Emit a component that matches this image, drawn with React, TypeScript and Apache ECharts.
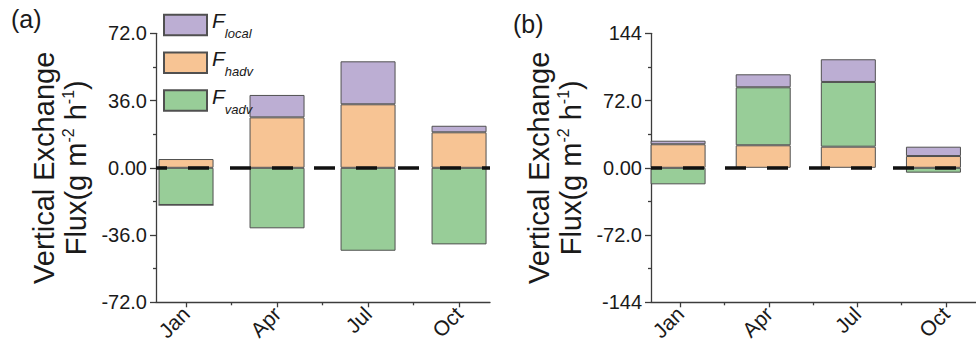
import React, { useEffect, useRef } from 'react';
import * as echarts from 'echarts';

const months = ['Jan', 'Apr', 'Jul', 'Oct'];
const monthPos = [1, 2, 3, 4];
const minorPos = [1.5, 2.5, 3.5];
const xMin = 0.67;
const xMax = 4.34;

// Panel (a)
const hadvA = [4.7, 27.0, 34.0, 19.0];
const vadvA = [-19.9, -32.4, -44.4, -41.0];
const localA = [0, 12.0, 23.0, 3.5];

// Panel (b)
const hadvB = [25.2, 24.1, 22.6, 12.6];
const vadvB = [-17.7, 62.1, 69.3, -5.2];
const localB = [3.8, 13.9, 24.3, 10.0];

const yTicksA = [-72, -36, 0, 36, 72];
const yLabelsA = ['-72.0', '-36.0', '0.00', '36.0', '72.0'];
const yTicksB = [-144, -72, 0, 72, 144];
const yLabelsB = ['-144', '-72.0', '0.00', '72.0', '144'];

const FONT = 'Liberation Sans, Arial, Helvetica, sans-serif';
const C_LOCAL = '#BCAED3';
const C_HADV = '#F7C494';
const C_VADV = '#98CD98';
const AXIS_COLOR = '#3c3c3c';
const TEXT_COLOR = '#1a1a1a';

export default function App() {
  const ref = useRef<HTMLDivElement>(null);

  useEffect(() => {
    if (!ref.current) return;
    const chart = echarts.init(ref.current, undefined, { renderer: 'svg' });

    const TOP = 33.3;
    const H = 269;
    const W = 334;
    const axisLefts = [156, 651];
    const step = W / (xMax - xMin);

    const grids: any[] = [];
    const xAxes: any[] = [];
    const yAxes: any[] = [];
    const series: any[] = [];

    [0, 1].forEach((gi) => {
      const ticks = gi === 0 ? yTicksA : yTicksB;
      const labels = gi === 0 ? yLabelsA : yLabelsB;
      const left = axisLefts[gi];
      // axis grid (index gi*2), bar grid (index gi*2+1)
      grids.push({ left, top: TOP, width: W, height: H });
      const barLeft = left + (monthPos[0] - xMin) * step - step / 2;
      grids.push({ left: barLeft, top: TOP, width: step * months.length, height: H });

      const axGrid = gi * 2;
      const barGrid = gi * 2 + 1;

      const majorX = xAxes.length;
      xAxes.push({
        type: 'value',
        gridIndex: axGrid,
        min: xMin,
        max: xMax,
        position: 'bottom',
        axisLine: { show: true, onZero: false, lineStyle: { color: AXIS_COLOR, width: 1.3 } },
        axisTick: { show: true, customValues: monthPos, length: 5, lineStyle: { color: AXIS_COLOR, width: 1.3 } },
        axisLabel: {
          show: true,
          customValues: monthPos,
          rotate: 45,
          margin: 8,
          fontSize: 21,
          fontFamily: FONT,
          color: TEXT_COLOR,
          formatter: (v: number) => months[monthPos.indexOf(v)] ?? '',
        },
        splitLine: { show: false },
      });
      xAxes.push({
        type: 'value',
        gridIndex: axGrid,
        min: xMin,
        max: xMax,
        position: 'bottom',
        axisLine: { show: false, onZero: false },
        axisTick: { show: true, customValues: minorPos, length: 3, lineStyle: { color: AXIS_COLOR, width: 1.3 } },
        axisLabel: { show: false },
        splitLine: { show: false },
      });
      const catX = xAxes.length;
      xAxes.push({
        type: 'category',
        gridIndex: barGrid,
        data: months,
        show: false,
        axisLine: { onZero: false },
      });

      const visY = yAxes.length;
      yAxes.push({
        type: 'value',
        gridIndex: axGrid,
        min: ticks[0],
        max: ticks[ticks.length - 1],
        interval: ticks[1] - ticks[0],
        axisLine: { show: true, onZero: false, lineStyle: { color: AXIS_COLOR, width: 1.3 } },
        axisTick: { show: true, length: 6, lineStyle: { color: AXIS_COLOR, width: 1.3 } },
        minorTick: { show: true, splitNumber: 2, length: 3, lineStyle: { color: AXIS_COLOR, width: 1.3 } },
        axisLabel: {
          fontSize: 20,
          margin: 9,
          fontFamily: FONT,
          color: TEXT_COLOR,
          formatter: (v: number) => labels[ticks.indexOf(v)] ?? '',
        },
        splitLine: { show: false },
        minorSplitLine: { show: false },
        name: 'Vertical Exchange\nFlux(g m{sup|-2} h{sup|-1})',
        nameLocation: 'middle',
        nameGap: 64,
        nameTextStyle: {
          fontSize: 29,
          lineHeight: 32,
          fontFamily: FONT,
          color: TEXT_COLOR,
          rich: {
            sup: { fontSize: 16, lineHeight: 23, verticalAlign: 'top', fontFamily: FONT, color: TEXT_COLOR },
          },
        },
      });
      const barY = yAxes.length;
      yAxes.push({
        type: 'value',
        gridIndex: barGrid,
        min: ticks[0],
        max: ticks[ticks.length - 1],
        interval: ticks[1] - ticks[0],
        show: false,
        splitLine: { show: false },
      });

      const data = gi === 0 ? [hadvA, vadvA, localA] : [hadvB, vadvB, localB];
      const names = ['F_hadv', 'F_vadv', 'F_local'];
      const colors = [C_HADV, C_VADV, C_LOCAL];
      names.forEach((name, k) => {
        series.push({
          type: 'bar',
          name,
          xAxisIndex: catX,
          yAxisIndex: barY,
          stack: 'st' + gi,
          barWidth: 55,
          data: data[k],
          itemStyle: { color: colors[k], borderColor: '#505050', borderWidth: 1 },
          z: 2,
        });
      });

      series.push({
        type: 'line',
        name: 'zero' + gi,
        xAxisIndex: majorX,
        yAxisIndex: visY,
        data: [],
        showSymbol: false,
        z: 10,
        markLine: {
          silent: true,
          symbol: ['none', 'none'],
          label: { show: false },
          z: 10,
          lineStyle: { color: '#111111', width: 3.5, type: [21, 21], dashOffset: 10 },
          data: [{ yAxis: 0 }],
        },
      });
    });

    chart.setOption({
      animation: false,
      backgroundColor: '#ffffff',
      grid: grids,
      xAxis: xAxes,
      yAxis: yAxes,
      legend: {
        data: ['F_local', 'F_hadv', 'F_vadv'],
        orient: 'vertical',
        left: 163,
        top: 10,
        padding: 0,
        itemWidth: 43,
        itemHeight: 20.5,
        itemGap: 7.8,
        icon: 'rect',
        selectedMode: false,
        formatter: (name: string) => `{f|F}{s|${name.split('_')[1]}}`,
        textStyle: {
          rich: {
            f: { fontSize: 21, fontStyle: 'italic', lineHeight: 30, verticalAlign: 'top', fontFamily: FONT, color: TEXT_COLOR },
            s: { fontSize: 13, fontStyle: 'italic', lineHeight: 13, verticalAlign: 'bottom', fontFamily: FONT, color: TEXT_COLOR },
          },
        },
      },
      graphic: [
        { type: 'text', left: 11, top: 6, style: { text: '(a)', font: `25px ${FONT}`, fill: TEXT_COLOR } },
        { type: 'text', left: 513, top: 11, style: { text: '(b)', font: `25px ${FONT}`, fill: TEXT_COLOR } },
      ],
      series,
    });

    return () => chart.dispose();
  }, []);

  return (
    <div
      ref={ref}
      style={{ position: 'absolute', left: 0, top: 0, width: 976, height: 351, background: '#fff' }}
    />
  );
}
